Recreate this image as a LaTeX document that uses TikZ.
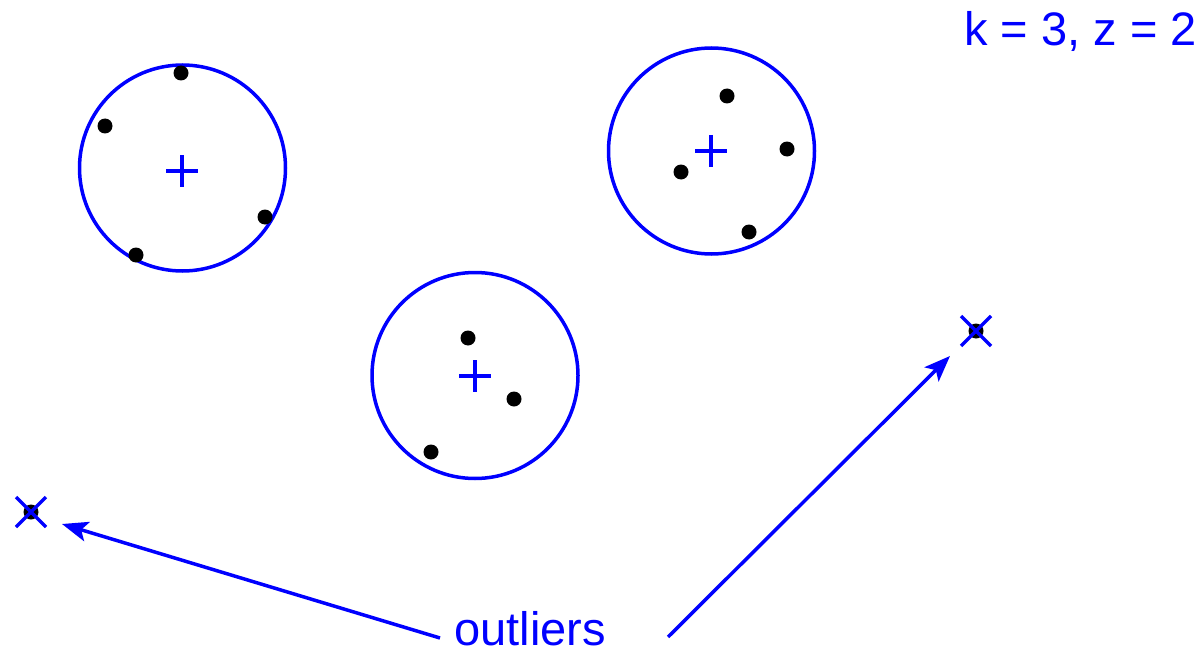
\documentclass[tikz,border=0pt]{standalone}
\usepackage{fontspec}
\setmainfont{Liberation Sans}
\usetikzlibrary{arrows.meta}
\begin{document}
\begin{tikzpicture}[x=1pt,y=-1pt,
  clus/.style={draw=blue,line width=3.5pt,circle,inner sep=0pt,minimum size=206pt},
  pt/.style={fill=black,circle,inner sep=0pt,minimum size=15pt},
  ctr/.style={draw=blue,line width=3.5pt},
  lbl/.style={text=blue,font=\fontsize{47}{50}\selectfont,inner sep=0pt,text depth=0pt},
  arr/.style={draw=blue,line width=3.5pt,-{Stealth[length=26pt,width=20pt,inset=6pt]}}]
\useasboundingbox (0,0) rectangle (1204,650);
% clusters
\node[clus] (c1) at (182.5,168) {};
\node[clus] (c2) at (711.5,151) {};
\node[clus] (c3) at (475,375.5) {};
% centres
\foreach \n/\x/\y in {p1/182/171,p2/711/151,p3/475/376}{
  \draw[ctr] (\x-16,\y) -- (\x+16,\y) (\x,\y-16) -- (\x,\y+16);
}
% points
\node[pt] (a1) at (181,73) {};
\node[pt] (a2) at (105,126) {};
\node[pt] (a3) at (265,217) {};
\node[pt] (a4) at (136,255) {};
\node[pt] (b1) at (727,96) {};
\node[pt] (b2) at (787,149) {};
\node[pt] (b3) at (681,172) {};
\node[pt] (b4) at (749,232) {};
\node[pt] (d1) at (468,338) {};
\node[pt] (d2) at (514,399) {};
\node[pt] (d3) at (431,452) {};
% outliers
\node[pt] (o1) at (31,512) {};
\node[pt] (o2) at (976,331) {};
\foreach \o in {o1,o2}{
  \draw[ctr] ([shift={(-15,-15)}]\o.center) -- ([shift={(15,15)}]\o.center)
             ([shift={(-15,15)}]\o.center) -- ([shift={(15,-15)}]\o.center);
}
% labels
\node[lbl,anchor=base east] (k) at (1197,46) {k = 3, z = 2};
\node[lbl,anchor=base] (out) at (530,645) {outliers};
\coordinate (t1) at (62,524);
\coordinate (t2) at (950,356);
\coordinate (s1) at (440,638);
\coordinate (s2) at (668,637);
\draw[arr] (s1) -- (t1);
\draw[arr] (s2) -- (t2);
\end{tikzpicture}
\end{document}
